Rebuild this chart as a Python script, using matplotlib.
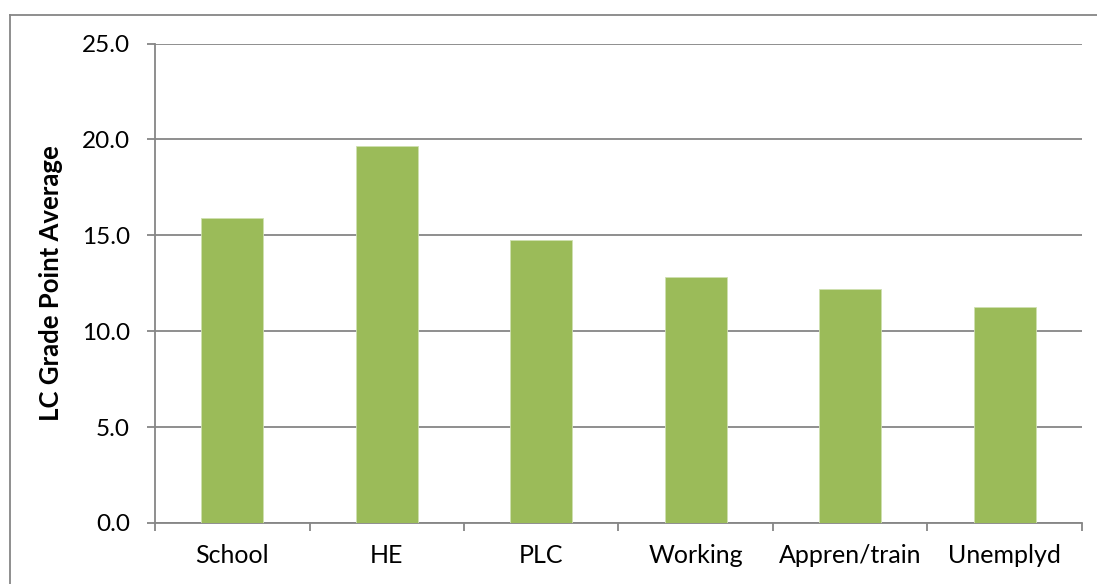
import numpy as np
import matplotlib.pyplot as plt
from matplotlib.lines import Line2D

categories = ['School', 'HE', 'PLC', 'Working', 'Appren/train', 'Unemplyd']
gpa = [15.92, 19.64, 14.77, 12.81, 12.22, 11.25]
yticks = [0.0, 5.0, 10.0, 15.0, 20.0, 25.0]

plt.rcParams['font.family'] = ['Lato', 'DejaVu Sans']
grey = '#868686'

fig = plt.figure(figsize=(10.97, 5.84), dpi=100)
ax = fig.add_axes([0.1413, 0.1045, 0.8450, 0.8210])

x = np.arange(len(categories))
ax.bar(x, gpa, width=0.4, color='#9BBB59', edgecolor='#cfe0b0', linewidth=0.6, zorder=3)

ax.set_xlim(-0.5, len(categories) - 0.5)
ax.set_ylim(0, 25)
ax.set_yticks(yticks)
ax.set_yticklabels(['%.1f' % v for v in yticks], fontsize=17.5)
ax.yaxis.grid(True, color=grey, linewidth=1.3, zorder=0)

ax.set_xticks(x)
ax.set_xticklabels(categories, fontsize=18)
ax.set_xticks(np.arange(-0.5, len(categories)), minor=True)
ax.tick_params(axis='x', which='major', length=0, pad=15)
ax.tick_params(axis='x', which='minor', length=6, width=1.3, color=grey)
ax.tick_params(axis='y', length=6, width=1.3, color=grey, pad=12)

for s in ['top', 'right']:
    ax.spines[s].set_visible(False)
for s in ['left', 'bottom']:
    ax.spines[s].set_color(grey)
    ax.spines[s].set_linewidth(1.3)

ax.set_ylabel('LC Grade Point Average', fontsize=18.5, fontweight='bold')
ax.yaxis.set_label_coords(-0.099, 0.5)

# chart border (only left and top visible in the crop)
fig.add_artist(Line2D([0.0087, 0.0087], [0.0, 0.974], color=grey, lw=1.3, transform=fig.transFigure))
fig.add_artist(Line2D([0.0087, 1.0], [0.974, 0.974], color=grey, lw=1.3, transform=fig.transFigure))

fig.savefig('out.png', dpi=100)
